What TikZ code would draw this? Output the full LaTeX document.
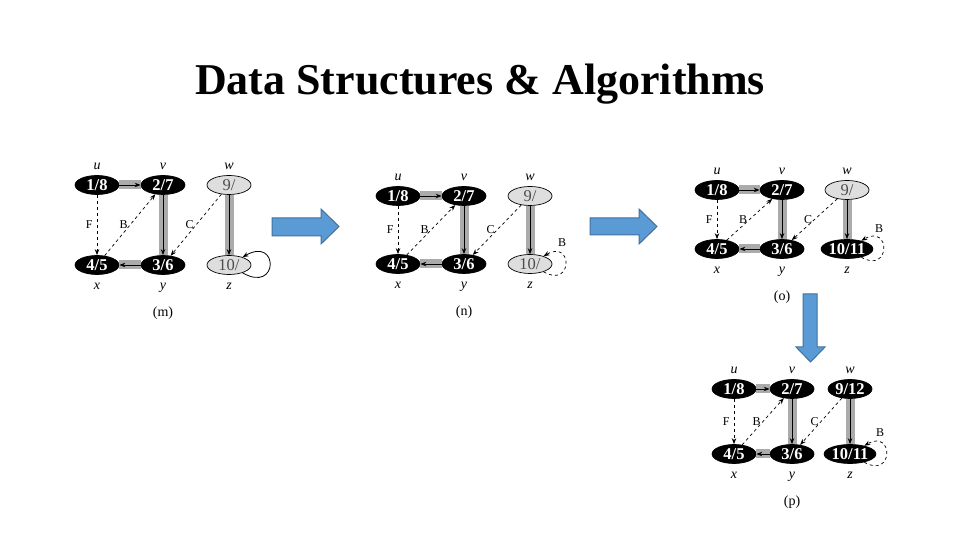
\documentclass[tikz,border=0pt]{standalone}
\usepackage{fontspec}
\setmainfont{Liberation Serif}
\usetikzlibrary{positioning,calc,arrows.meta,shapes.geometric}
\definecolor{arrowblue}{HTML}{5B9BD5}
\definecolor{arrowedge}{HTML}{41719C}
\tikzstyle{vtx}=[ellipse, draw=black, line width=0.7pt, minimum width=44pt, minimum height=19pt, inner sep=0pt]
\tikzstyle{blk}=[vtx, fill=black, text=white, font=\fontsize{16.5}{16.5}\selectfont\bfseries]
\tikzstyle{gry}=[vtx, fill=black!13, text=black!70, font=\fontsize{16.5}{16.5}\selectfont]
\tikzstyle{vname}=[font=\fontsize{14}{14}\selectfont\itshape, inner sep=1pt]
\tikzstyle{elabel}=[font=\fontsize{12}{12}\selectfont, inner sep=1pt]
\tikzstyle{capt}=[font=\fontsize{14}{14}\selectfont, inner sep=1pt]
\tikzstyle{tree}=[-{Stealth[length=6pt,width=4.5pt]}, line width=0.9pt, preaction={draw, -, line width=9pt, black!33}]
\tikzstyle{nontree}=[-{Stealth[length=6pt,width=4.5pt]}, line width=0.7pt, dashed]
\tikzstyle{selfsolid}=[-{Stealth[length=6pt,width=4.5pt]}, line width=0.8pt, min distance=42pt]
\tikzstyle{selfdash}=[nontree, min distance=34pt]
\tikzstyle{bigarrow}=[fill=arrowblue, draw=arrowedge, line width=1pt]
\newcommand{\drawpanel}[9]
{
  \node[blk] (#1-u) at (#2) {1/8};
  \node[blk] (#1-v) at ($(#1-u)+(#3,0)$) {2/7};
  \node[#5] (#1-w) at ($(#1-v)+(#3,0)$) {#6};
  \node[blk] (#1-x) at ($(#1-u)+(0,-#4)$) {4/5};
  \node[blk] (#1-y) at ($(#1-v)+(0,-#4)$) {3/6};
  \node[#7] (#1-z) at ($(#1-w)+(0,-#4)$) {#8};
  \node[vname, above=4pt of #1-u] (#1-lu) {u};
  \node[vname, above=4pt of #1-v] (#1-lv) {v};
  \node[vname, above=4pt of #1-w] (#1-lw) {w};
  \node[vname, below=7pt of #1-x] (#1-lx) {x};
  \node[vname, below=7pt of #1-y] (#1-ly) {y};
  \node[vname, below=7pt of #1-z] (#1-lz) {z};
  \node[capt, below=12pt of #1-ly] (#1-cap) {(#1)};
  \draw[tree] (#1-u) -- (#1-v);
  \draw[tree] (#1-v) -- (#1-y);
  \draw[tree] (#1-y) -- (#1-x);
  \draw[tree] (#1-w) -- (#1-z);
  \draw[nontree] (#1-u) -- node[elabel, left=3pt] (#1-f) {F} (#1-x);
  \draw[nontree] (#1-x) -- node[elabel, left=1pt] (#1-b) {B} (#1-v);
  \draw[nontree] (#1-w) -- node[elabel, left=1pt] (#1-c) {C} (#1-y);
  \draw[#9] (#1-z) to[out=-30, in=30] (#1-z);
}

\begin{document}
\begin{tikzpicture}[x=1pt, y=1pt]
  \useasboundingbox (0,0) rectangle (960,540);
  \fill[white] (0,0) rectangle (960,540);

  \node[font=\fontsize{44}{44}\selectfont\bfseries, anchor=base] (title) at (480,445) {Data Structures \& Algorithms};

  \drawpanel{m}{97,355}{66}{80}{gry}{9/}{gry}{10/}{selfsolid}
  \drawpanel{n}{398,344}{66}{68}{gry}{9/}{gry}{10/}{selfdash}
  \drawpanel{o}{717,350}{65}{59}{gry}{9/}{blk}{10/11}{selfdash}
  \drawpanel{p}{734,151}{58}{65}{blk}{9/12}{blk}{10/11}{selfdash}

  \node[elabel] (n-zb) at ($(n-z)+(32,21)$) {B};
  \node[elabel] (o-zb) at ($(o-z)+(32,20)$) {B};
  \node[elabel] (p-zb) at ($(p-z)+(30,21)$) {B};

  % big arrows between the panels
  \draw[bigarrow] (272,304) -- (321,304) -- (321,296) -- (339,313.5) -- (321,331) -- (321,322) -- (272,322) -- cycle;
  \draw[bigarrow] (590,305) -- (639,305) -- (639,296) -- (657,313.5) -- (639,331) -- (639,322) -- (590,322) -- cycle;
  \draw[bigarrow] (803,246) -- (803,193) -- (796,193) -- (810.5,178) -- (825,193) -- (817,193) -- (817,246) -- cycle;
\end{tikzpicture}
\end{document}
